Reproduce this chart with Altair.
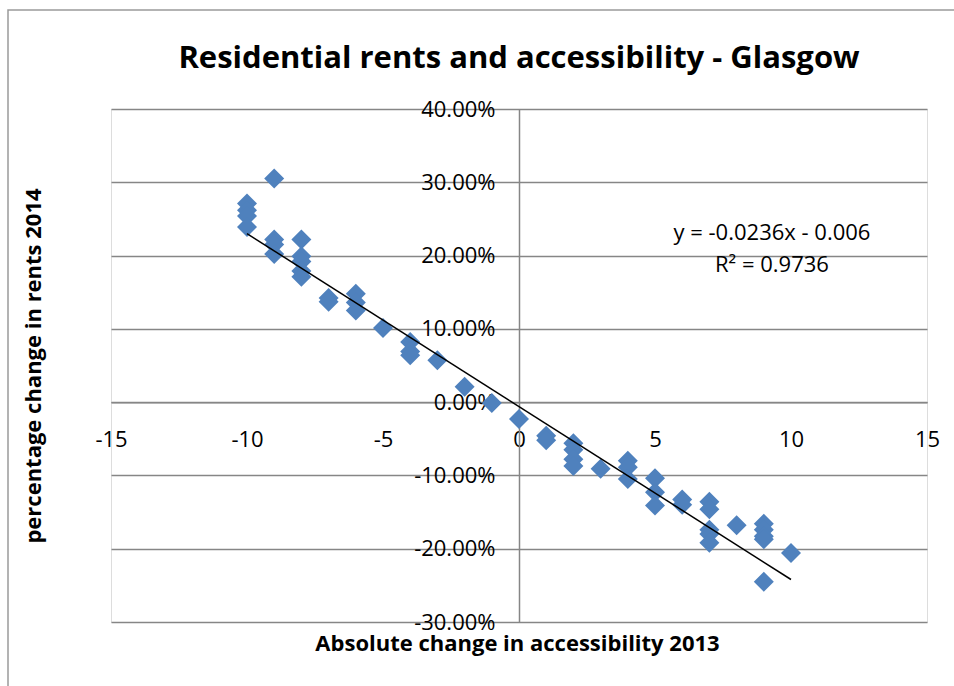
import altair as alt
import pandas as pd

# Absolute change in accessibility (2013) per area
access = [-10, -10, -10, -10,
          -9, -9, -9, -9,
          -8, -8, -8, -8, -8,
          -7, -7,
          -6, -6, -6,
          -5,
          -4, -4, -4,
          -3, -2, -1, 0,
          1, 1,
          2, 2, 2, 2,
          3,
          4, 4, 4,
          5, 5, 5,
          6, 6,
          7, 7, 7, 7, 7,
          8,
          9, 9, 9, 9, 9,
          10]

# Percentage change in residential rents (2014), as fractions
rent_change = [0.271, 0.262, 0.254, 0.239,
               0.305, 0.222, 0.215, 0.202,
               0.222, 0.199, 0.192, 0.179, 0.171,
               0.142, 0.137,
               0.148, 0.136, 0.125,
               0.101,
               0.082, 0.069, 0.064,
               0.057, 0.021, -0.001, -0.023,
               -0.046, -0.052,
               -0.056, -0.065, -0.078, -0.087,
               -0.091,
               -0.080, -0.089, -0.105,
               -0.104, -0.123, -0.141,
               -0.133, -0.140,
               -0.136, -0.146, -0.174, -0.180, -0.192,
               -0.168,
               -0.166, -0.174, -0.183, -0.187, -0.245,
               -0.206]

# Linear trendline as reported
slope = -0.0236
intercept = -0.006
r_squared = 0.9736
trend_range = [-10, 10]

x_ticks = [-15, -10, -5, 0, 5, 10, 15]
y_ticks = [-0.3, -0.2, -0.1, 0.0, 0.1, 0.2, 0.3, 0.4]

W, H = 816, 513
X_DOM = [-15, 15]
Y_DOM = [-0.3, 0.4]
FONT = "Open Sans"
GRID = "#868686"
BLUE = "#4F81BD"

# shift the axes so they cross at the origin
x_axis_shift = -H * (0 - Y_DOM[0]) / (Y_DOM[1] - Y_DOM[0])
y_axis_shift = -W * (0 - X_DOM[0]) / (X_DOM[1] - X_DOM[0])

points = pd.DataFrame({"access": access, "rent": rent_change})
trend = pd.DataFrame({
    "access": trend_range,
    "rent": [slope * v + intercept for v in trend_range],
})

eq_text = f"y = {slope}x - {abs(intercept)}"
r2_text = f"R\u00b2 = {r_squared}"
labels = pd.DataFrame({
    "access": [9.3, 9.3],
    "rent": [0.231, 0.187],
    "text": [eq_text, r2_text],
})

x_scale = alt.Scale(domain=X_DOM, nice=False, zero=False)
y_scale = alt.Scale(domain=Y_DOM, nice=False, zero=False)

x_axis = alt.Axis(
    values=x_ticks,
    labelExpr="(datum.value < 0 ? '-' : '') + format(abs(datum.value), 'd')",
    offset=x_axis_shift,
    grid=False,
    ticks=False,
    domainColor=GRID,
    domainWidth=1.5,
    labelFont=FONT,
    labelFontSize=22,
    labelColor="black",
    labelPadding=27,
    labelFlush=False,
    labelOverlap=False,
    title="Absolute change in accessibility 2013",
    titleFont=FONT,
    titleFontSize=22,
    titleFontWeight="bold",
    titleColor="black",
    titleX=W / 2 - 2,
    titleY=241,
    titleBaseline="middle",
    titleAlign="center",
)

y_axis = alt.Axis(
    values=y_ticks,
    labelExpr="(datum.value < 0 ? '-' : '') + format(abs(datum.value), '.2%')",
    offset=y_axis_shift,
    grid=True,
    gridColor=GRID,
    gridWidth=1.5,
    ticks=False,
    domainColor=GRID,
    domainWidth=1.5,
    labelFont=FONT,
    labelFontSize=22,
    labelColor="black",
    labelPadding=24,
    labelFlush=False,
    labelOverlap=False,
    title="percentage change in rents 2014",
    titleFont=FONT,
    titleFontSize=22,
    titleFontWeight="bold",
    titleColor="black",
    titleX=-78 + y_axis_shift,
    titleY=H / 2,
    titleAngle=270,
    titleBaseline="middle",
    titleAlign="center",
)

base = alt.Chart(points).mark_point(
    shape="diamond", size=400, filled=True, color=BLUE, opacity=1
).encode(
    x=alt.X("access:Q", scale=x_scale, axis=x_axis),
    y=alt.Y("rent:Q", scale=y_scale, axis=y_axis),
)

line = alt.Chart(trend).mark_line(color="black", strokeWidth=1.5).encode(
    x=alt.X("access:Q", scale=x_scale),
    y=alt.Y("rent:Q", scale=y_scale),
)

eq = alt.Chart(labels).mark_text(
    font=FONT, fontSize=22, color="black", align="center", baseline="middle"
).encode(
    x=alt.X("access:Q", scale=x_scale),
    y=alt.Y("rent:Q", scale=y_scale),
    text="text:N",
)

# outer chart-area frame
frame = alt.Chart(alt.Data(values=[{}])).mark_rect(
    fill="white", fillOpacity=0, stroke="#9a9a9a", strokeWidth=1.5
).encode(
    x=alt.value(-103), x2=alt.value(W + 40),
    y=alt.value(-99), y2=alt.value(H + 80),
)

chart = alt.layer(frame, base, line, eq).properties(
    width=W,
    height=H,
    padding={"left": 111, "top": 109, "right": 27, "bottom": 64},
    autosize=alt.AutoSizeParams(type="none"),
    title=alt.TitleParams(
        "Residential rents and accessibility - Glasgow",
        font=FONT, fontSize=31, fontWeight="bold", color="black",
        anchor="middle", frame="group", baseline="alphabetic", offset=-90,
    ),
).configure_view(stroke=None).configure(background="white")

chart.save("out.html", embed_options={"renderer": "svg", "actions": False})
